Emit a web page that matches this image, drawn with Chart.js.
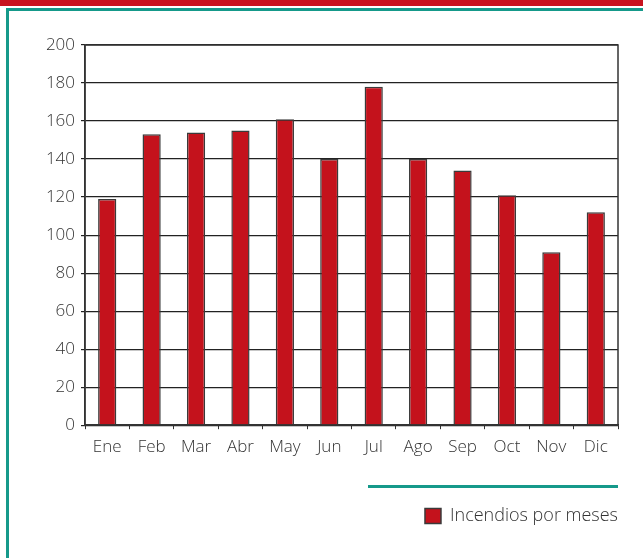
<!DOCTYPE html>
<html>
<head>
<meta charset="utf-8">
<script src="https://cdn.jsdelivr.net/npm/chart.js@4.4.1/dist/chart.umd.min.js"></script>
<style>
  html, body { margin: 0; padding: 0; background: #fff; }
  #wrap { position: relative; width: 643px; height: 558px; overflow: hidden; }
  #band { position: absolute; left: 0; top: 0; width: 643px; height: 6px; background: #c8131f; }
  #topline { position: absolute; left: 6px; top: 8px; width: 637px; height: 3px; background: #15998a; }
  #leftline { position: absolute; left: 6px; top: 8px; width: 3px; height: 550px; background: #15998a; }
  #legline { position: absolute; left: 368px; top: 485px; width: 250px; height: 3px; background: #15998a; }
  canvas { position: absolute; left: 0; top: 0; }
</style>
</head>
<body>
<div id="wrap">
  <div id="band"></div>
  <div id="topline"></div>
  <div id="leftline"></div>
  <div id="legline"></div>
  <canvas id="incendiosChart" width="643" height="558"></canvas>
</div>
<script>
// Datos
const meses = ["Ene", "Feb", "Mar", "Abr", "May", "Jun", "Jul", "Ago", "Sep", "Oct", "Nov", "Dic"];
const incendios = [119, 153, 154, 155, 161, 140, 178, 140, 134, 121, 91, 112];
const yTicks = [0, 20, 40, 60, 80, 100, 120, 140, 160, 180, 200];

const fontFamily = "'Open Sans', 'Noto Sans', sans-serif";

// Marco del area de grafico
const plotFrame = {
    id: "plotFrame",
    afterDraw(chart) {
        const a = chart.chartArea;
        const c = chart.ctx;
        c.save();
        c.strokeStyle = "#333";
        c.lineWidth = 1.5;
        c.strokeRect(a.left, a.top, a.right - a.left, a.bottom - a.top);
        c.restore();
    }
};

const ctx = document.getElementById("incendiosChart").getContext("2d");

new Chart(ctx, {
    type: "bar",
    data: {
        labels: meses,
        datasets: [
            {
                label: "Incendios por meses",
                data: incendios,
                backgroundColor: "#c4121c",
                borderColor: "#3a3a3a",
                borderWidth: 1.5,
                barPercentage: 0.82,
                categoryPercentage: 0.5
            }
        ]
    },
    options: {
        responsive: false,
        animation: false,
        layout: {
            padding: { top: 45, right: 25, bottom: 23, left: 0 }
        },
        plugins: {
            legend: {
                position: "bottom",
                align: "end",
                title: { display: true, text: "", padding: { top: 27, bottom: 0 } },
                labels: {
                    boxWidth: 16,
                    boxHeight: 15,
                    color: "#333",
                    padding: 0,
                    font: { family: fontFamily, size: 18, weight: "300" }
                }
            },
            tooltip: { enabled: false }
        },
        scales: {
            x: {
                grid: {
                    display: true,
                    drawOnChartArea: false,
                    drawTicks: true,
                    tickLength: 4,
                    color: "#333"
                },
                border: { color: "#333", width: 1.5 },
                ticks: {
                    color: "#333",
                    padding: 8,
                    font: { family: fontFamily, size: 17, weight: "300" }
                }
            },
            y: {
                min: 0,
                max: 200,
                afterBuildTicks(scale) {
                    scale.ticks = yTicks.map(v => ({ value: v }));
                },
                afterFit(scale) {
                    scale.width = 85;
                },
                grid: {
                    color: "#222",
                    lineWidth: 1.2,
                    tickLength: 4
                },
                border: { color: "#333", width: 1.5 },
                ticks: {
                    color: "#333",
                    padding: 6,
                    font: { family: fontFamily, size: 17, weight: "300" }
                }
            }
        }
    },
    plugins: [plotFrame]
});
</script>
</body>
</html>
